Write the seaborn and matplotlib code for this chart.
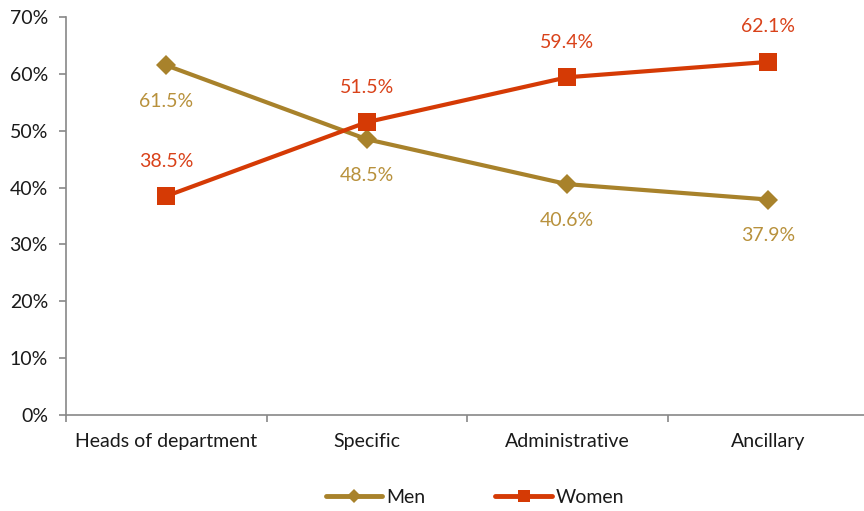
import matplotlib
matplotlib.use("Agg")
import matplotlib.pyplot as plt
import seaborn as sns
import pandas as pd
from matplotlib.lines import Line2D

categories = ["Heads of department", "Specific", "Administrative", "Ancillary"]
men = [61.5, 48.5, 40.6, 37.9]
women = [38.5, 51.5, 59.4, 62.1]
y_ticks = [0, 10, 20, 30, 40, 50, 60, 70]

men_color = "#A8822B"
women_color = "#D53A05"
men_label_color = "#B8913C"
women_label_color = "#D9421A"
text_color = "#1a1a1a"
axis_color = "#888888"
FS = 14

df = pd.DataFrame({
    "x": list(range(len(categories))) * 2,
    "value": men + women,
    "group": ["Men"] * len(men) + ["Women"] * len(women),
})

sns.set_theme(style="white")
plt.rcParams["font.family"] = ["Lato", "DejaVu Sans"]

fig = plt.figure(figsize=(8.64, 5.11), dpi=100)
ax = fig.add_axes([66 / 864, 1 - 415 / 511, 802 / 864, (415 - 17) / 511])

sns.lineplot(
    data=df, x="x", y="value", hue="group", style="group",
    palette={"Men": men_color, "Women": women_color},
    markers={"Men": "D", "Women": "s"}, dashes=False,
    linewidth=3, markeredgewidth=0, ax=ax, legend=False,
)
for line, ms in zip(ax.lines, [10, 12.5]):
    line.set_markersize(ms)

# data labels: 35 px below men points, 36 px above women points (offsets in points)
for i, v in enumerate(men):
    ax.annotate(f"{v:.1f}%", (i, v), xytext=(0, -36 * 0.72), textcoords="offset points",
                ha="center", va="center", fontsize=FS, color=men_label_color)
for i, v in enumerate(women):
    ax.annotate(f"{v:.1f}%", (i, v), xytext=(0, 35 * 0.72), textcoords="offset points",
                ha="center", va="center", fontsize=FS, color=women_label_color)

ax.set_xlim(-0.5, len(categories) - 0.5)
ax.set_ylim(0, 70)
ax.set_yticks(y_ticks)
ax.set_yticklabels([f"{t}%" for t in y_ticks], fontsize=FS, color=text_color)
ax.set_xticks(range(len(categories)))
ax.set_xticklabels(categories, fontsize=FS, color=text_color)
ax.set_xticks([i - 0.5 for i in range(len(categories) + 1)], minor=True)
ax.tick_params(axis="x", which="major", bottom=True, length=0, pad=13)
ax.tick_params(axis="x", which="minor", bottom=True, length=5, width=1.2,
               color=axis_color, direction="out")
ax.tick_params(axis="y", left=True, length=5, width=1.2, color=axis_color,
               direction="out", pad=8)
ax.set_xlabel("")
ax.set_ylabel("")

for side in ["top", "right"]:
    ax.spines[side].set_visible(False)
for side in ["left", "bottom"]:
    ax.spines[side].set_color(axis_color)
    ax.spines[side].set_linewidth(1.2)

handles = [
    Line2D([], [], color=men_color, lw=3.5, marker="D", markersize=7, markeredgewidth=0),
    Line2D([], [], color=women_color, lw=3.5, marker="s", markersize=9, markeredgewidth=0),
]
fig.legend(handles, ["Men", "Women"], loc="center", bbox_to_anchor=(475 / 864, 1 - 497 / 511),
           ncol=2, frameon=False, fontsize=FS, handlelength=2.9, handletextpad=0.2,
           columnspacing=3.6, labelcolor=text_color)

fig.savefig("out.png", dpi=100)
